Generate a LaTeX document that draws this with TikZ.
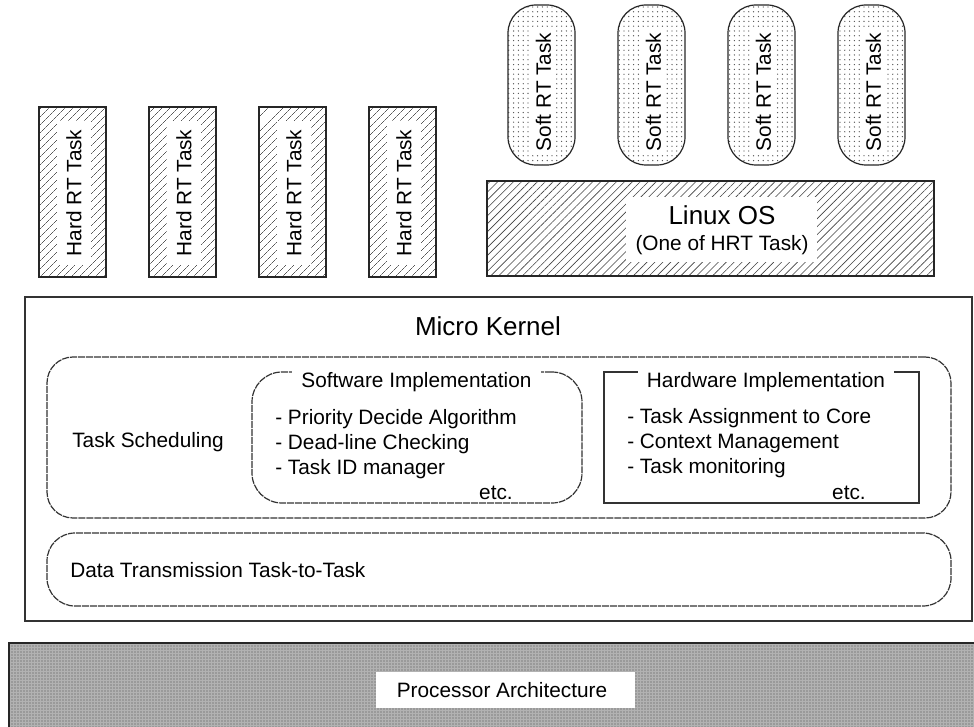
\documentclass[tikz,border=0pt]{standalone}
\usepackage{fontspec}
\setmainfont{Liberation Sans}
\usetikzlibrary{patterns.meta,fit}
\newlength\pu
\setlength\pu{0.75pt}
\begin{document}
\begin{tikzpicture}[x=0.75pt,y=-0.75pt,
  font=\fontsize{15.6}{18}\selectfont,
  hardbox/.style={draw=black!85, line width=1.1pt, inner sep=0pt,
    pattern={Lines[angle=45,distance=4pt,line width=0.45pt]}, pattern color=black!65},
  hardlab/.style={rotate=90, fill=white, inner xsep=9\pu, inner ysep=9\pu},
  softbox/.style={draw=black!85, line width=0.9pt, inner sep=0pt, rounded corners=28\pu,
    pattern={Dots[radius=0.5pt,distance=3.6pt]}, pattern color=black!70},
  softlab/.style={rotate=90, fill=white, inner xsep=3\pu, inner ysep=5\pu},
  linuxbox/.style={draw=black!85, line width=1.1pt, inner sep=0pt,
    pattern={Lines[angle=45,distance=4.2pt,line width=0.45pt]}, pattern color=black!75},
  bigtext/.style={font=\fontsize{19.5}{22}\selectfont},
  kbox/.style={draw=black!80, line width=1.2pt, inner sep=0pt},
  dbox/.style={draw=black!80, line width=0.9pt, inner sep=0pt, dash pattern=on 7\pu off 1\pu},
  hwbox/.style={draw=black!80, line width=0.9pt, inner sep=0pt},
  hdr/.style={anchor=base, fill=white, inner xsep=9\pu, inner ysep=4\pu},
  item/.style={anchor=base west, inner sep=0pt},
  procbox/.style={draw=black!85, line width=1.4pt, inner sep=0pt,
    preaction={fill=black!30},
    pattern={Dots[radius=0.55pt,distance=2.25pt]}, pattern color=black!70}
]
\useasboundingbox (0,0) rectangle (974,727);

% Hard RT tasks
\foreach \i/\xa/\xb in {1/39/106, 2/149/216, 3/259/326, 4/369/436} {
  \node[hardbox, fit={(\xa,107) (\xb,277)}] (hard\i) {};
  \node[hardlab] (hardt\i) at ({(\xa+\xb)/2+1.5},193) {Hard RT Task};
}

% Soft RT tasks
\foreach \i/\xa/\xb in {1/508/575, 2/618/685, 3/728/795, 4/838/905} {
  \node[softbox, fit={(\xa,5) (\xb,165)}] (soft\i) {};
  \node[softlab] (softt\i) at ({(\xa+\xb)/2+2},92) {Soft RT Task};
}

% Linux OS
\node[linuxbox, fit={(487,181) (934,276)}] (linux) {};
\node[fill=white, minimum width=191\pu, minimum height=65\pu, inner sep=0pt] (linuxlab) at (721.5,229.5) {};
\node[bigtext, anchor=base, inner sep=0pt] (linuxt) at (722,225) {Linux OS};
\node[anchor=base, inner sep=0pt] (linuxs) at (722,251) {(One of HRT Task)};

% Micro Kernel
\node[kbox, fit={(25,297) (972,621)}] (mk) {};
\node[bigtext, anchor=base, inner sep=0pt] (mkt) at (488,335) {Micro Kernel};

% Task Scheduling
\node[dbox, rounded corners=26\pu, fit={(47,357) (951,518)}] (ts) {};
\node[item] (tst) at (72,447) {Task Scheduling};

% Software Implementation
\node[dbox, rounded corners=30\pu, fit={(252,372) (582,503)}] (sw) {};
\node[hdr] (swt) at (416.5,387) {Software Implementation};
\node[item] (sw1) at (275,424) {- Priority Decide Algorithm};
\node[item] (sw2) at (275,449) {- Dead-line Checking};
\node[item] (sw3) at (275,474) {- Task ID manager};
\node[anchor=base, inner sep=0pt] (swe) at (496,499) {etc.};

% Hardware Implementation
\node[hwbox, fit={(604,372) (919,503)}] (hw) {};
\node[hdr] (hwt) at (766,387) {Hardware Implementation};
\node[item] (hw1) at (627,423) {- Task Assignment to Core};
\node[item] (hw2) at (627,448) {- Context Management};
\node[item] (hw3) at (627,473) {- Task monitoring};
\node[anchor=base, inner sep=0pt] (hwe) at (849,499) {etc.};

% Data Transmission
\node[dbox, rounded corners=28\pu, fit={(47,533) (951,606)}] (dt) {};
\node[item] (dtt) at (70,577) {Data Transmission Task-to-Task};

% Processor Architecture
\begin{scope}
  \clip (0,0) rectangle (974,727);
  \node[procbox, fit={(9,643) (990,745)}] (proc) {};
\end{scope}
\node[fill=white, minimum width=259\pu, minimum height=36\pu, inner sep=0pt] (proclab) at (505.5,690) {};
\node[anchor=base, inner sep=0pt] (proct) at (502,697) {Processor Architecture};
\end{tikzpicture}
\end{document}
